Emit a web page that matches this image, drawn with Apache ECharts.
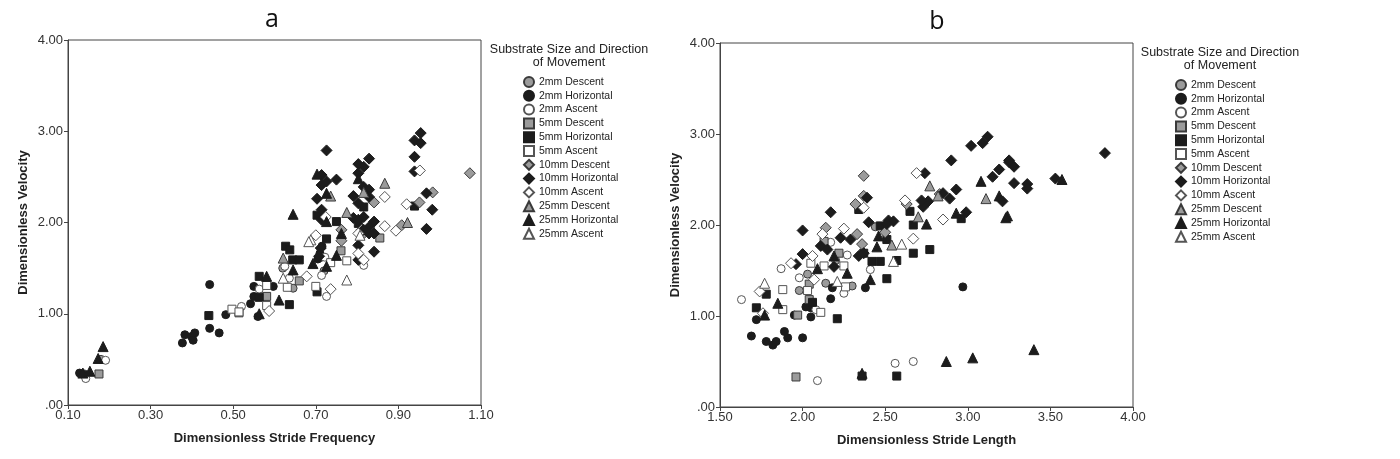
<!DOCTYPE html>
<html>
<head>
<meta charset="utf-8">
<script src="https://cdn.jsdelivr.net/npm/echarts@6/dist/echarts.min.js"></script>
<style>
html,body{margin:0;padding:0;background:#fff;}
#chart{width:1400px;height:459px;}
</style>
</head>
<body>
<div id="chart"></div>
<script>
// ---------- legend / series names ----------
const seriesNames = ['2mm Descent','2mm Horizontal','2mm Ascent','5mm Descent','5mm Horizontal','5mm Ascent','10mm Descent','10mm Horizontal','10mm Ascent','25mm Descent','25mm Horizontal','25mm Ascent'];
const yTicks = [0, 1, 2, 3, 4];
const xTicksA = [0.1, 0.3, 0.5, 0.7, 0.9, 1.1];
const xTicksB = [1.5, 2.0, 2.5, 3.0, 3.5, 4.0];

// ---------- panel a: [stride frequency, velocity] ----------
const a_2mmDescent = [[0.62,1.50],[0.645,1.28],[0.72,1.47],[0.81,1.90],[0.18,0.50],[0.14,0.34],[0.714,1.62]];
const a_2mmHorizontal = [[0.443,1.32],[0.443,0.84],[0.466,0.79],[0.377,0.68],[0.383,0.77],[0.399,0.75],[0.407,0.79],[0.403,0.71],[0.482,0.99],[0.542,1.11],[0.550,1.30],[0.550,1.19],[0.597,1.30],[0.560,0.97],[0.128,0.35],[0.140,0.33],[0.710,1.66],[0.715,1.74],[0.705,1.60]];
const a_2mmAscent = [[0.191,0.49],[0.143,0.29],[0.625,1.52],[0.563,1.27],[0.520,1.08],[0.636,1.39],[0.726,1.19],[0.714,1.42],[0.816,1.53],[0.722,1.62]];
const a_5mmDescent = [[0.175,0.34],[0.514,1.01],[0.581,1.19],[0.660,1.36],[0.761,1.69],[0.855,1.83]];
const a_5mmHorizontal = [[0.441,0.98],[0.563,1.41],[0.563,1.18],[0.627,1.74],[0.637,1.70],[0.644,1.59],[0.660,1.59],[0.636,1.10],[0.703,1.24],[0.703,2.08],[0.726,1.82],[0.750,2.01],[0.939,2.18],[0.816,2.17],[0.803,1.99]];
const a_5mmAscent = [[0.497,1.05],[0.514,1.02],[0.581,1.31],[0.581,1.09],[0.631,1.29],[0.700,1.30],[0.736,1.56],[0.775,1.58]];
const a_10mmDescent = [[1.073,2.54],[0.983,2.33],[0.951,2.22],[0.908,1.97],[0.841,2.22],[0.762,1.92],[0.762,1.80],[0.811,1.92],[0.816,1.88]];
const a_10mmHorizontal = [[0.726,2.79],[0.954,2.98],[0.939,2.90],[0.954,2.87],[0.939,2.72],[0.939,2.56],[0.829,2.70],[0.803,2.64],[0.816,2.61],[0.803,2.54],[0.750,2.47],[0.714,2.52],[0.726,2.45],[0.714,2.41],[0.703,2.26],[0.714,2.14],[0.791,2.29],[0.816,2.39],[0.829,2.36],[0.829,2.28],[0.803,2.21],[0.791,2.05],[0.803,2.03],[0.816,2.06],[0.841,2.01],[0.829,1.95],[0.816,1.92],[0.829,1.88],[0.841,1.88],[0.803,1.75],[0.803,1.59],[0.841,1.68],[0.968,2.32],[0.982,2.14],[0.968,1.93],[0.714,2.03],[0.712,1.72],[0.708,1.63]];
const a_10mmAscent = [[0.952,2.57],[0.867,2.28],[0.920,2.20],[0.867,1.96],[0.894,1.91],[0.700,1.86],[0.678,1.41],[0.736,1.27],[0.587,1.03],[0.803,1.66],[0.816,1.59],[0.803,1.88],[0.724,2.06]];
const a_25mmDescent = [[0.867,2.43],[0.736,2.29],[0.775,2.11],[0.922,2.00],[0.816,2.33],[0.621,1.61]];
const a_25mmHorizontal = [[0.645,2.09],[0.703,2.53],[0.726,2.32],[0.726,2.01],[0.803,2.48],[0.693,1.55],[0.726,1.52],[0.750,1.64],[0.762,1.88],[0.645,1.48],[0.611,1.15],[0.581,1.41],[0.563,1.00],[0.185,0.64],[0.173,0.51],[0.136,0.35],[0.153,0.37]];
const a_25mmAscent = [[0.775,1.37],[0.688,1.81],[0.621,1.39],[0.807,1.86],[0.683,1.79]];

// ---------- panel b: [stride length, velocity] ----------
const b_2mmDescent = [[1.98,1.28],[2.03,1.46],[2.14,1.36],[2.30,1.33],[2.44,1.98],[2.20,1.61]];
const b_2mmHorizontal = [[1.69,0.78],[1.78,0.72],[1.82,0.68],[1.84,0.72],[1.89,0.83],[1.91,0.76],[2.00,0.76],[1.95,1.01],[1.72,0.96],[2.05,1.09],[2.05,0.99],[2.17,1.19],[2.18,1.31],[2.38,1.31],[2.97,1.32],[2.02,1.10]];
const b_2mmAscent = [[1.63,1.18],[1.87,1.52],[1.98,1.42],[2.09,0.29],[2.56,0.48],[2.67,0.50],[2.27,1.67],[2.41,1.51],[2.25,1.25],[2.17,1.81],[2.08,1.07]];
const b_5mmDescent = [[1.96,0.33],[1.97,1.01],[2.04,1.18],[2.13,1.82],[2.22,1.69],[2.04,1.35]];
const b_5mmHorizontal = [[1.72,1.09],[1.78,1.24],[2.06,1.15],[2.21,0.97],[2.36,0.34],[2.57,0.34],[2.51,1.41],[2.42,1.60],[2.47,1.60],[2.57,1.61],[2.67,1.69],[2.77,1.73],[2.67,2.00],[2.65,2.15],[2.96,2.07],[2.47,1.99],[2.34,2.17],[2.37,1.69],[2.51,1.84]];
const b_5mmAscent = [[1.88,1.29],[1.88,1.07],[2.05,1.58],[2.13,1.55],[2.03,1.28],[2.11,1.04],[2.25,1.55],[2.26,1.32]];
const b_10mmDescent = [[2.37,2.54],[2.37,2.32],[2.32,2.23],[2.14,1.97],[2.33,1.90],[2.36,1.79],[2.50,1.92],[2.63,2.23],[2.83,2.34]];
const b_10mmHorizontal = [[3.12,2.97],[3.09,2.90],[3.02,2.87],[2.90,2.71],[2.93,2.39],[2.89,2.29],[2.99,2.14],[2.85,2.35],[3.15,2.53],[3.19,2.61],[3.25,2.69],[3.28,2.46],[3.21,2.26],[2.74,2.57],[2.76,2.26],[2.73,2.20],[2.72,2.27],[2.52,2.05],[2.55,2.04],[2.51,2.01],[2.40,2.03],[2.39,2.30],[2.17,2.14],[2.00,1.94],[2.00,1.68],[1.96,1.57],[2.11,1.77],[2.15,1.73],[2.23,1.86],[2.29,1.84],[2.34,1.66],[2.37,1.69],[2.19,1.54],[3.83,2.79],[3.25,2.71],[3.28,2.64],[3.36,2.45],[3.36,2.40],[3.53,2.51]];
const b_10mmAscent = [[2.69,2.57],[2.62,2.27],[2.37,2.19],[2.85,2.06],[2.67,1.85],[2.25,1.96],[2.12,1.90],[2.06,1.66],[2.07,1.40],[1.93,1.58],[1.74,1.27],[1.76,1.03]];
const b_25mmDescent = [[2.77,2.43],[2.82,2.32],[3.11,2.29],[2.70,2.09],[2.54,1.78]];
const b_25mmHorizontal = [[3.08,2.48],[2.93,2.13],[3.19,2.32],[3.24,2.10],[2.75,2.01],[2.46,1.88],[2.45,1.76],[2.41,1.40],[2.27,1.47],[2.09,1.52],[2.19,1.66],[1.85,1.14],[1.77,1.01],[2.36,0.37],[2.87,0.50],[3.03,0.54],[3.40,0.63],[3.23,2.08],[3.57,2.50]];
const b_25mmAscent = [[1.77,1.36],[2.55,1.60],[2.60,1.79],[2.21,1.38]];

const panelA = [a_2mmDescent,a_2mmHorizontal,a_2mmAscent,a_5mmDescent,a_5mmHorizontal,a_5mmAscent,a_10mmDescent,a_10mmHorizontal,a_10mmAscent,a_25mmDescent,a_25mmHorizontal,a_25mmAscent];
const panelB = [b_2mmDescent,b_2mmHorizontal,b_2mmAscent,b_5mmDescent,b_5mmHorizontal,b_5mmAscent,b_10mmDescent,b_10mmHorizontal,b_10mmAscent,b_25mmDescent,b_25mmHorizontal,b_25mmAscent];

// ---------- styles ----------
const shapes = ['circle','rect','diamond','triangle'];
const shapeSize = {circle:8, rect:8, diamond:11, triangle:10};
const fills = [
  {color:'#9b9b9b', borderColor:'#3a3a3a', borderWidth:1},
  {color:'#1c1c1c', borderColor:'#1c1c1c', borderWidth:1},
  {color:'#ffffff', borderColor:'#555555', borderWidth:1}
];
const FONT = 'Liberation Sans, Arial, sans-serif';

function makeSeries(panel, gridIdx) {
  return panel.map((d, i) => {
    const shape = shapes[Math.floor(i / 3)];
    return {
      name: seriesNames[i],
      type: 'scatter',
      xAxisIndex: gridIdx, yAxisIndex: gridIdx,
      data: d,
      symbol: shape,
      symbolSize: shapeSize[shape],
      itemStyle: Object.assign({opacity:1}, fills[i % 3]),
      emphasis: {disabled: true},
      z: 2
    };
  });
}

function yAxis(gridIdx) {
  return {
    gridIndex: gridIdx, type: 'value', min: 0, max: 4, interval: 1,
    name: 'Dimensionless Velocity', nameLocation: 'middle', nameGap: 38,
    nameTextStyle: {fontFamily: FONT, fontSize: 13, fontWeight: 'bold', color: '#222'},
    axisLine: {show: true, lineStyle: {color: '#444', width: 1}},
    axisTick: {show: true, length: 4, lineStyle: {color: '#444'}},
    splitLine: {show: false},
    axisLabel: {fontFamily: FONT, fontSize: 13, color: '#333', margin: 5,
      formatter: v => v === 0 ? '.00' : v.toFixed(2)}
  };
}
function xAxis(gridIdx, min, max, ticks, name) {
  return {
    gridIndex: gridIdx, type: 'value', min: min, max: max,
    name: name, nameLocation: 'middle', nameGap: 27,
    nameTextStyle: {fontFamily: FONT, fontSize: 13, fontWeight: 'bold', color: '#222'},
    axisLine: {show: true, onZero: false, lineStyle: {color: '#444', width: 1}},
    axisTick: {show: true, length: 4, lineStyle: {color: '#444'}, customValues: ticks},
    splitLine: {show: false},
    axisLabel: {fontFamily: FONT, fontSize: 13, color: '#333', margin: 4,
      customValues: ticks, formatter: v => v.toFixed(2)}
  };
}

function legend(left, top) {
  return {
    data: seriesNames.map(n => ({name: n})),
    orient: 'vertical', left: left, top: top,
    itemWidth: 10, itemHeight: 10, itemGap: 1.8,
    textStyle: {fontFamily: FONT, fontSize: 10.5, color: '#222'},
    selectedMode: false, inactiveColor: '#ccc'
  };
}

const chart = echarts.init(document.getElementById('chart'), null, {renderer: 'canvas'});
chart.setOption({
  backgroundColor: '#fff',
  animation: false,
  title: [
    {text: 'a', left: 267, top: 2, textAlign: 'center', textStyle: {fontFamily: 'Open Sans, sans-serif', fontSize: 25, fontWeight: 'normal', color: '#111'}},
    {text: 'b', left: 932, top: 4, textAlign: 'center', textStyle: {fontFamily: 'Open Sans, sans-serif', fontSize: 25, fontWeight: 'normal', color: '#111'}}
  ],
  grid: [
    {left: 68, top: 40, width: 413, height: 365, show: true, borderColor: '#444', borderWidth: 1, containLabel: false},
    {left: 720, top: 43, width: 413, height: 364, show: true, borderColor: '#444', borderWidth: 1, containLabel: false}
  ],
  xAxis: [
    xAxis(0, 0.1, 1.1, xTicksA, 'Dimensionless Stride Frequency'),
    xAxis(1, 1.5, 4.0, xTicksB, 'Dimensionless Stride Length')
  ],
  yAxis: [yAxis(0), yAxis(1)],
  legend: [legend(518, 71), legend(1170, 74)],
  graphic: [
    {type: 'text', position: [569, 43], style: {text: 'Substrate Size and Direction\nof Movement', fontFamily: FONT, fontSize: 12.5, fill: '#222', align: 'center', lineHeight: 13}},
    {type: 'text', position: [1220, 46], style: {text: 'Substrate Size and Direction\nof Movement', fontFamily: FONT, fontSize: 12.5, fill: '#222', align: 'center', lineHeight: 13}}
  ],
  series: makeSeries(panelA, 0).concat(makeSeries(panelB, 1))
});
</script>
</body>
</html>
